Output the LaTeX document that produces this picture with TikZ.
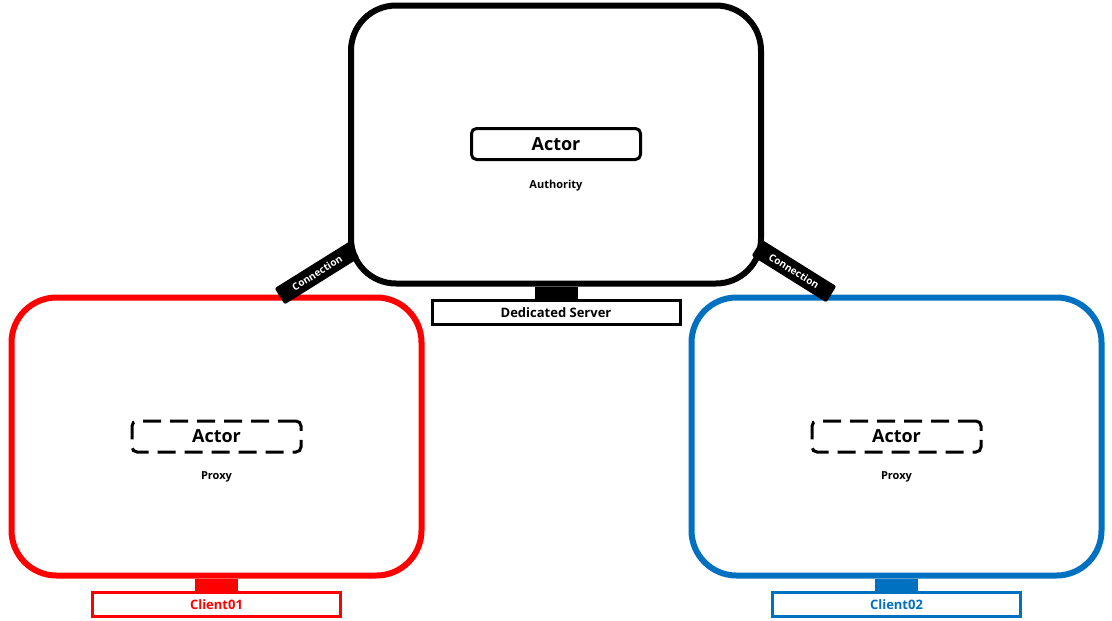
\documentclass[tikz,border=0pt]{standalone}
\usepackage{fontspec}
\setmainfont{Open Sans}
\usepackage{tikz}
\usetikzlibrary{positioning, calc}
\definecolor{clientred}{RGB}{255,0,0}
\definecolor{clientblue}{RGB}{0,112,192}

\begin{document}
\begin{tikzpicture}[x=1pt, y=-1pt,
  screen/.style={rectangle, draw=#1, line width=6pt, rounded corners=45pt, minimum width=410pt, minimum height=278pt},
  stand/.style={rectangle, fill=#1, minimum width=43pt, minimum height=12pt, inner sep=0pt},
  tag/.style={rectangle, draw=#1, line width=3pt, minimum width=248pt, minimum height=24pt, inner sep=0pt, font=\fontsize{13}{15}\selectfont\bfseries},
  actor/.style={rectangle, draw=black, line width=3pt, rounded corners=5pt, minimum width=169pt, minimum height=31pt, inner sep=0pt, font=\fontsize{18}{20}\selectfont\bfseries},
  role/.style={font=\fontsize{11}{13}\selectfont\bfseries},
  conn/.style={rectangle, fill=black, rounded corners=2pt, minimum width=88pt, minimum height=19pt, inner sep=0pt, text=white, font=\fontsize{10}{12}\selectfont\bfseries},
]
  \useasboundingbox (0,0) rectangle (1112,621);

  % Server (top)
  \node[screen=black] (srv) at (556,144.5) {};
  \node[stand=black, anchor=north] (srvstand) at (srv.south) {};
  \node[tag=black, anchor=north] (srvtag) at (srvstand.south) {Dedicated Server};
  \node[actor] (auth) at (556,144) {Actor};
  \node[role, below=16pt of auth] (authlbl) {Authority};

  % Client01 (left)
  \node[screen=clientred] (cl1) at (216.5,436.5) {};
  \node[stand=clientred, anchor=north] (cl1stand) at (cl1.south) {};
  \node[tag=clientred, text=clientred, anchor=north] (cl1tag) at (cl1stand.south) {Client01};
  \node[actor, dashed, dash pattern=on 18pt off 9pt] (prx1) at (216.5,436.5) {Actor};
  \node[role, below=15pt of prx1] (prx1lbl) {Proxy};

  % Client02 (right)
  \node[screen=clientblue] (cl2) at (896.5,436.5) {};
  \node[stand=clientblue, anchor=north] (cl2stand) at (cl2.south) {};
  \node[tag=clientblue, text=clientblue, anchor=north] (cl2tag) at (cl2stand.south) {Client02};
  \node[actor, dashed, dash pattern=on 18pt off 9pt] (prx2) at (896.5,436.5) {Actor};
  \node[role, below=15pt of prx2] (prx2lbl) {Proxy};

  % Connections
  \node[conn, rotate=32] (con1) at (317,273) {Connection};
  \node[conn, rotate=-32] (con2) at (794,271) {Connection};
\end{tikzpicture}
\end{document}
